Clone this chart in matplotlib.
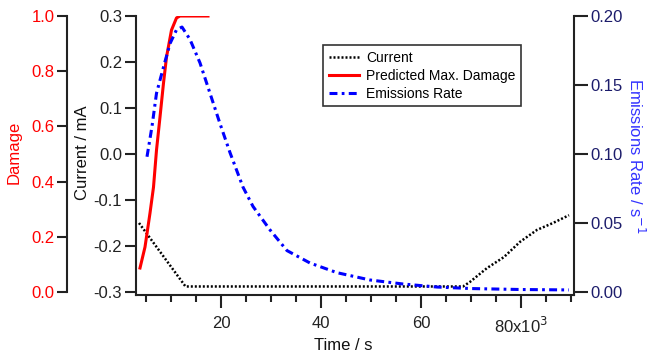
import matplotlib
matplotlib.use('Agg')
import matplotlib.pyplot as plt
from matplotlib.ticker import MultipleLocator, FixedLocator, FixedFormatter, FormatStrFormatter

plt.rcParams['font.family'] = ['Liberation Sans', 'DejaVu Sans']
plt.rcParams['font.size'] = 12
plt.rcParams['axes.unicode_minus'] = False

# current trace (time in s, current in mA)
cur_t = [3600, 12900, 68400, 69800, 73200, 76600, 79800, 83200, 86400, 89600]
cur = [-0.150, -0.288, -0.288, -0.278, -0.248, -0.224, -0.191, -0.165, -0.150, -0.133]

# predicted max damage (fraction)
dmg_t = [3800, 4800, 5800, 6500, 7100, 7800, 8500, 9100, 10100, 11100, 11800, 17400]
dmg = [0.087, 0.163, 0.286, 0.380, 0.514, 0.634, 0.757, 0.851, 0.949, 0.993, 1.0, 1.0]

# emissions rate (1/s)
em_t = [5200, 6200, 7100, 8500, 9800, 11100, 12200, 13800, 15800, 17800, 19800,
        21800, 24400, 26400, 29800, 33200, 37800, 43200, 49800, 56400, 63200,
        70000, 80000, 89600]
em = [0.098, 0.120, 0.144, 0.163, 0.180, 0.190, 0.192, 0.183, 0.166, 0.144, 0.122,
      0.101, 0.076, 0.062, 0.045, 0.030, 0.021, 0.014, 0.0087, 0.0058, 0.0036,
      0.0025, 0.0018, 0.0015]

x_ticks = [20000, 40000, 60000, 80000]
x_labels = ['20', '40', '60', '80x10$^{3}$']

RED = '#ff0000'
BLUE = '#0000ff'
NAVY = '#1c1c6b'
SPINE = '#222222'

W, H = 649, 354
fig = plt.figure(figsize=(W / 100, H / 100), dpi=100)
left, right, top, bottom = 136, 574, 16, 295
ax = fig.add_axes([left / W, 1 - bottom / H, (right - left) / W, (bottom - top) / H])
ax_d = ax.twinx()
ax_e = ax.twinx()

# current axis (inner left)
ax.plot(cur_t, cur, color='black', lw=1.8, linestyle=(0, (0.8, 0.8)), label='Current')
ax.set_xlim(3000, 90600)
ax.set_ylim(-0.3 - 3 / 460, 0.3)
ax.yaxis.set_major_locator(MultipleLocator(0.1))
ax.yaxis.set_major_formatter(FormatStrFormatter('%.1f'))
ax.xaxis.set_major_locator(FixedLocator(x_ticks))
ax.xaxis.set_major_formatter(FixedFormatter(x_labels))
ax.xaxis.set_minor_locator(MultipleLocator(5000))
for s in ['top', 'right']:
    ax.spines[s].set_visible(False)
for s in ['left', 'bottom']:
    ax.spines[s].set_linewidth(1.5)
    ax.spines[s].set_color(SPINE)
ax.tick_params(axis='y', length=8, width=1.5, color=SPINE, labelcolor='#222222', pad=2)
ax.tick_params(axis='x', which='major', length=9, width=1.5, color=SPINE, labelcolor='#222222', pad=6)
ax.tick_params(axis='x', which='minor', length=5, width=1.5, color=SPINE)
ax.set_ylabel('Current / mA', color='#111111')
ax.yaxis.set_label_coords(-0.105, 0.51)
ax.set_xlabel('Time / s', color='#111111')
ax.xaxis.set_label_coords(0.473, -0.155)

# damage axis (outer left)
ax_d.plot(dmg_t, dmg, color=RED, lw=2.2, label='Predicted Max. Damage')
ax_d.set_ylim(-3 / 276, 1.0)
ax_d.yaxis.set_ticks_position('left')
ax_d.yaxis.set_label_position('left')
ax_d.spines['left'].set_position(('outward', 69 * 0.72))
ax_d.spines['left'].set_bounds(0, 1.0)
ax_d.spines['left'].set_visible(True)
ax_d.spines['left'].set_linewidth(1.5)
ax_d.spines['left'].set_color(SPINE)
for s in ['right', 'top', 'bottom']:
    ax_d.spines[s].set_visible(False)
ax_d.yaxis.set_major_locator(MultipleLocator(0.2))
ax_d.yaxis.set_major_formatter(FormatStrFormatter('%.1f'))
ax_d.tick_params(axis='y', length=7, width=1.5, color=SPINE, labelcolor=RED, pad=2)
ax_d.set_ylabel('Damage', color=RED)
ax_d.yaxis.set_label_coords(-0.262, 0.51)

# emissions axis (right)
ax_e.plot(em_t, em, color=BLUE, lw=2.2, linestyle=(0, (2.6, 1.4, 0.9, 1.4)), label='Emissions Rate')
ax_e.set_ylim(-3 / 1380, 0.20)
for s in ['left', 'top', 'bottom']:
    ax_e.spines[s].set_visible(False)
ax_e.spines['right'].set_linewidth(1.5)
ax_e.spines['right'].set_color(SPINE)
ax_e.yaxis.set_major_locator(MultipleLocator(0.05))
ax_e.yaxis.set_major_formatter(FormatStrFormatter('%.2f'))
ax_e.tick_params(axis='y', length=10, width=1.5, color=SPINE, labelcolor=NAVY, pad=2)
ax_e.set_ylabel('Emissions Rate / s$^{-1}$', color='#3333ff', rotation=270)
ax_e.yaxis.set_label_coords(1.165, 0.5)

handles = ax.get_lines() + ax_d.get_lines() + ax_e.get_lines()
leg = ax_e.legend(handles=handles, loc='upper left', bbox_to_anchor=(0.427, 0.896),
                  fontsize=10, frameon=True, fancybox=False, handlelength=2.2,
                  borderpad=0.4, labelspacing=0.3, handletextpad=0.5, borderaxespad=0)
leg.get_frame().set_edgecolor('black')
leg.get_frame().set_linewidth(1.2)

fig.savefig('out.png', dpi=100)
